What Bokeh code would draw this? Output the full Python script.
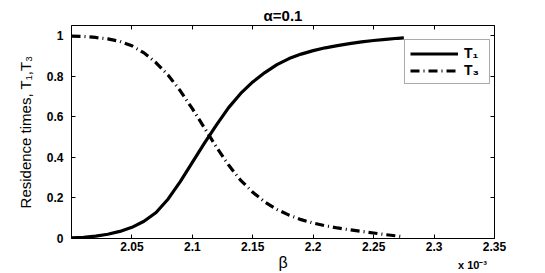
from bokeh.plotting import figure
from bokeh.models import (Range1d, LinearAxis, FixedTicker, CustomJSTickFormatter,
                          Legend, LegendItem)
from bokeh.embed import file_html
from bokeh.resources import INLINE

# ---- data (beta in units of 1e-3) ----
beta = [2.000, 2.010, 2.020, 2.030, 2.040, 2.050, 2.060, 2.070, 2.080, 2.090,
        2.100, 2.110, 2.120, 2.130, 2.140, 2.150, 2.160, 2.170, 2.180, 2.190,
        2.200, 2.210, 2.220, 2.230, 2.240, 2.250, 2.260, 2.270, 2.275]
T1 = [0.003, 0.006, 0.012, 0.021, 0.035, 0.055, 0.085, 0.128, 0.195, 0.280,
      0.375, 0.470, 0.560, 0.645, 0.715, 0.772, 0.818, 0.857, 0.887, 0.909,
      0.926, 0.940, 0.951, 0.961, 0.969, 0.976, 0.982, 0.987, 0.989]
T3 = [0.998, 0.996, 0.991, 0.984, 0.972, 0.950, 0.915, 0.866, 0.805, 0.728,
      0.640, 0.545, 0.450, 0.362, 0.287, 0.228, 0.180, 0.143, 0.115, 0.093,
      0.076, 0.063, 0.052, 0.043, 0.035, 0.027, 0.019, 0.012, 0.008]
x_ticks = [2.0, 2.05, 2.1, 2.15, 2.2, 2.25, 2.3, 2.35]
y_ticks = [0, 0.2, 0.4, 0.6, 0.8, 1.0]
exp_tick = [2.3318]          # where the "x 10^-3" multiplier sits
exp_text = "x 10\u207b\u00b3"

FONT = "Liberation Sans"

p = figure(width=545, height=273, output_backend="svg", toolbar_location=None,
           x_range=Range1d(2.0, 2.35), y_range=Range1d(0, 1.05),
           min_border_left=71, min_border_right=51, min_border_top=25,
           min_border_bottom=34, x_axis_location=None, y_axis_location=None)
p.grid.visible = False
p.outline_line_color = "black"
p.outline_line_width = 1
p.background_fill_color = "white"
p.border_fill_color = "white"

fmt = CustomJSTickFormatter(code="""
if (Math.abs(tick - 2.0) < 1e-9 && tick > 1.5) return "";
let s = tick.toFixed(3);
s = s.replace(/0+$/, "").replace(/\\.$/, "");
return s;
""")

def make_axis(ticks, show_labels):
    ax = LinearAxis(ticker=FixedTicker(ticks=ticks), formatter=fmt)
    ax.major_tick_in = 4
    ax.major_tick_out = 0
    ax.minor_tick_in = 0
    ax.minor_tick_out = 0
    ax.axis_line_color = None
    ax.major_tick_line_color = "black"
    ax.major_tick_line_width = 1
    ax.major_label_text_font = FONT
    ax.major_label_text_font_style = "bold"
    ax.major_label_text_color = "black"
    ax.axis_label_text_color = "black"
    ax.axis_label_text_font = FONT
    ax.axis_label_text_font_style = "normal"
    if show_labels:
        ax.major_label_text_font_size = "12px"
        ax.major_label_standoff = 5
    else:
        ax.major_label_text_alpha = 0
        ax.major_label_text_font_size = "1px"
        ax.major_label_standoff = 0
    return ax

# main bottom axis (ticks + tick labels)
xb = make_axis(x_ticks, True)
xb.major_label_standoff = 3

# second bottom axis: carries the x10^-3 multiplier and the beta label
xm = LinearAxis(ticker=FixedTicker(ticks=exp_tick),
                formatter=CustomJSTickFormatter(code='return "%s";' % exp_text))
xm.axis_line_color = None
xm.major_tick_line_color = None
xm.major_tick_in = 0
xm.major_tick_out = 0
xm.minor_tick_in = 0
xm.minor_tick_out = 0
xm.major_label_standoff = 5
xm.major_label_text_font = FONT
xm.major_label_text_font_style = "bold"
xm.major_label_text_font_size = "11px"
xm.major_label_text_color = "black"
xm.axis_label = "\u03b2"
xm.axis_label_text_font = FONT
xm.axis_label_text_font_style = "normal"
xm.axis_label_text_font_size = "16px"
xm.axis_label_text_color = "black"
xm.axis_label_standoff = -20

yl = make_axis(y_ticks, True)
yl.major_label_standoff = 8
yl.axis_label = "Residence times, T\u2081,T\u2083"
yl.axis_label_text_font_size = "15px"
yl.axis_label_standoff = 10

p.add_layout(xb, "below")
p.add_layout(xm, "below")
p.add_layout(yl, "left")
p.add_layout(make_axis(x_ticks, False), "above")
p.add_layout(make_axis(y_ticks, False), "right")

p.title.text = "\u03b1=0.1"
p.title.align = "center"
p.title.text_font = FONT
p.title.text_font_size = "15px"
p.title.text_font_style = "bold"
p.title.text_color = "black"
p.title.standoff = 4

r1 = p.line(beta, T1, line_color="black", line_width=3.2)
r3 = p.line(beta, T3, line_color="black", line_width=3.2, line_dash="9 4 1 4")

legend = Legend(items=[LegendItem(label="T\u2081", renderers=[r1]),
                       LegendItem(label="T\u2083", renderers=[r3])],
                location=(333, 154), glyph_width=48, glyph_height=15,
                label_standoff=6, padding=5, spacing=1, margin=0,
                label_text_font=FONT, label_text_font_style="bold",
                label_text_font_size="14px", label_text_color="black",
                border_line_color="#555555",
                border_line_width=1, background_fill_alpha=1)
p.add_layout(legend)

open("out.html", "w").write(file_html(p, INLINE))
